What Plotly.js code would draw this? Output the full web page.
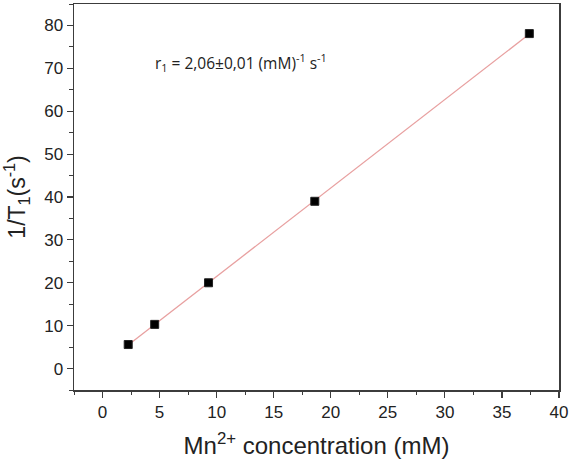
<!DOCTYPE html>
<html>
<head>
<meta charset="utf-8">
<script src="https://cdn.plot.ly/plotly-3.0.1.min.js"></script>
<style>html,body{margin:0;padding:0;background:#fff;}#chart{width:574px;height:466px;}</style>
</head>
<body>
<div id="chart"></div>
<script>
// Data
const concentration = [2.25, 4.57, 9.29, 18.6, 37.4];   // Mn2+ concentration (mM)
const relaxRate = [5.6, 10.3, 20.0, 39.0, 78.1];         // 1/T1 (s^-1)
const xTickVals = [0, 5, 10, 15, 20, 25, 30, 35, 40];
const yTickVals = [0, 10, 20, 30, 40, 50, 60, 70, 80];
const annotationText = 'r<sub>1</sub> = 2,06±0,01 (mM)<sup>-1</sup> s<sup>-1</sup>';

// Least-squares linear fit from the data
const n = concentration.length;
const mx = concentration.reduce((a, b) => a + b, 0) / n;
const my = relaxRate.reduce((a, b) => a + b, 0) / n;
let sxy = 0, sxx = 0;
for (let i = 0; i < n; i++) {
  sxy += (concentration[i] - mx) * (relaxRate[i] - my);
  sxx += (concentration[i] - mx) ** 2;
}
const slope = sxy / sxx;
const intercept = my - slope * mx;
const fitX = [concentration[0], concentration[n - 1]];
const fitY = fitX.map(x => intercept + slope * x);

const axisFont = {family: 'Liberation Sans, Arial, sans-serif', size: 17, color: '#222'};
const common = {
  showline: true, linecolor: '#3c3c3c', linewidth: 1.5, mirror: true,
  ticks: 'outside', ticklen: 6, tickwidth: 1.2, tickcolor: '#3c3c3c',
  showgrid: false, zeroline: false, tickfont: axisFont,
};

const traces = [
  {x: fitX, y: fitY, mode: 'lines', line: {color: '#e8a0a0', width: 1.3}, hoverinfo: 'skip'},
  {x: concentration, y: relaxRate, mode: 'markers',
   marker: {symbol: 'square', size: 8, color: '#000', line: {color: '#222', width: 1}}}
];

const layout = {
  width: 574, height: 466,
  margin: {l: 74, r: 15, t: 4, b: 76},
  paper_bgcolor: '#fff', plot_bgcolor: '#fff',
  showlegend: false,
  xaxis: Object.assign({}, common, {
    range: [-2.5, 40], tickvals: xTickVals,
    minor: {dtick: 2.5, tick0: 0, ticks: 'outside', ticklen: 3.5, tickcolor: '#3c3c3c', tickwidth: 1},
    title: {text: 'Mn<sup>2+</sup> concentration (mM)', font: {family: 'Liberation Sans, Arial, sans-serif', size: 24, color: '#222'}, standoff: 16}
  }),
  yaxis: Object.assign({}, common, {
    range: [-5, 85], tickvals: yTickVals,
    minor: {dtick: 5, tick0: 0, ticks: 'outside', ticklen: 3.5, tickcolor: '#3c3c3c', tickwidth: 1},
    title: {text: '1/T<sub>1</sub>(s<sup>-1</sup>)', font: {family: 'Liberation Sans, Arial, sans-serif', size: 23, color: '#222'}, standoff: 12}
  }),
  annotations: [{
    x: 4.4, y: 71.4, xref: 'x', yref: 'y', xanchor: 'left', yanchor: 'middle',
    text: annotationText, showarrow: false,
    font: {family: 'Open Sans, sans-serif', size: 15.5, color: '#222'}
  }]
};

Plotly.newPlot('chart', traces, layout, {displayModeBar: false, staticPlot: true});
</script>
</body>
</html>
